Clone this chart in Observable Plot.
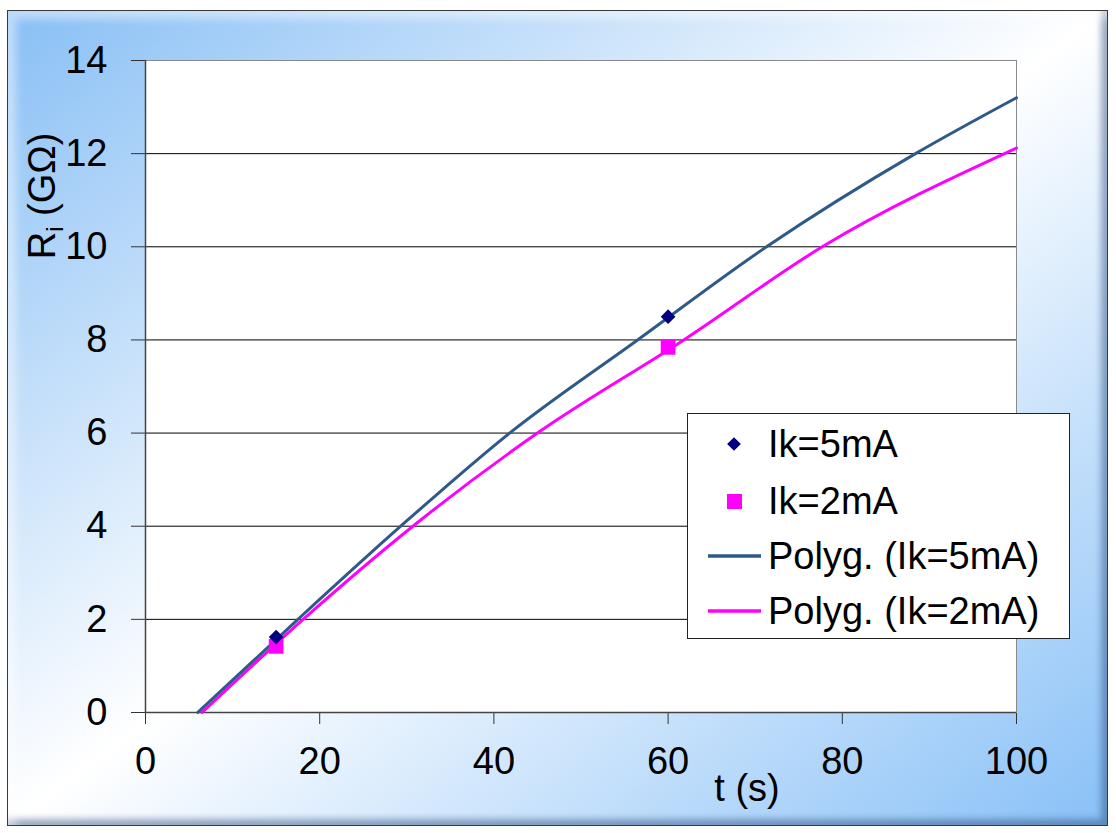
<!DOCTYPE html>
<html>
<head>
<meta charset="utf-8">
<script src="https://cdn.jsdelivr.net/npm/d3@7"></script>
<script src="https://cdn.jsdelivr.net/npm/@observablehq/plot@0.6"></script>
<style>
  html, body { margin: 0; padding: 0; width: 1116px; height: 833px; overflow: hidden; background: #fff; }
  #frame {
    position: absolute; left: 7px; top: 10px; width: 1101px; height: 816px;
    border: 1px solid #3a3a3a; box-sizing: border-box;
    background: linear-gradient(to bottom right, #88bff5 0%, #ffffff 50%, #88c0f7 100%);
    box-shadow: inset 8px 8px 8px rgba(255,255,255,0.45), inset -6px -6px 6px rgba(40,70,120,0.45);
  }
  #chart { position: absolute; left: 0; top: 0; }
  #chart svg text { font-family: "Liberation Sans", Arial, sans-serif; font-size: 38px; fill: #000; }
  #legend {
    position: absolute; left: 687px; top: 413px; width: 383px; height: 226px;
    box-sizing: border-box; background: #fff; border: 1px solid #222;
    font-family: "Liberation Sans", Arial, sans-serif; font-size: 38px; color: #000;
  }
  .row { position: absolute; left: 0; height: 40px; display: flex; align-items: center; }
  .row svg { width: 80px; height: 40px; }
  .row span { line-height: 40px; white-space: nowrap; }
</style>
</head>
<body>
<div id="frame"></div>
<div id="chart"></div>
<div id="legend"></div>
<script>
// Measured points
const tMeas = [15, 60];
const r5mA = [1.62, 8.5];
const r2mA = [1.42, 7.84];

// Polynomial trend lines
const tFit5 = [6.0, 17.5, 29.3, 41.8, 56.5, 71.3, 88.4, 100];
const rFit5 = [0, 2, 4, 6, 8, 10, 12, 13.2];
const tFit2 = [6.5, 18.1, 30.7, 45.0, 61.8, 77.7, 100];
const rFit2 = [0, 2, 4, 6, 8, 10, 12.12];

const xTicks = [0, 20, 40, 60, 80, 100];
const yTicks = [0, 2, 4, 6, 8, 10, 12, 14];

const seriesNames = ["Ik=5mA", "Ik=2mA", "Polyg. (Ik=5mA)", "Polyg. (Ik=2mA)"];
const colors = { line5: "#2e5a8a", line2: "#ff00ff", dot5: "#000080", dot2: "#ff00ff" };

const pts5 = tMeas.map((t, i) => ({ t, r: r5mA[i] }));
const pts2 = tMeas.map((t, i) => ({ t, r: r2mA[i] }));
const fit5 = tFit5.map((t, i) => ({ t, r: rFit5[i] }));
const fit2 = tFit2.map((t, i) => ({ t, r: rFit2[i] }));

const W = 1116, H = 833;
const plot = Plot.plot({
  width: W, height: H,
  marginLeft: 145, marginRight: 100, marginTop: 60, marginBottom: 121,
  style: { background: "transparent", color: "#333", overflow: "visible" },
  x: { domain: [0, 100], ticks: xTicks, tickSize: 12, tickPadding: 23, label: null },
  y: { domain: [0, 14], ticks: yTicks, tickSize: 14, tickPadding: 24, label: null },
  marks: [
    Plot.frame({ fill: "white", stroke: "#8a8a8a" }),
    Plot.ruleY(yTicks.filter(d => d > 0 && d < 14), { stroke: "#000", strokeWidth: 1 }),
    Plot.ruleY([0], { stroke: "#444", strokeWidth: 1.5 }),
    Plot.ruleX([0], { stroke: "#444", strokeWidth: 1.5 }),
    Plot.line(fit2, { x: "t", y: "r", stroke: colors.line2, strokeWidth: 3, curve: "monotone-x" }),
    Plot.line(fit5, { x: "t", y: "r", stroke: colors.line5, strokeWidth: 3, curve: "monotone-x" }),
    Plot.dot(pts2, { x: "t", y: "r", symbol: "square", r: 8.3, fill: colors.dot2, stroke: "none" }),
    Plot.dot(pts5, { x: "t", y: "r", symbol: "diamond2", r: 6.6, fill: colors.dot5, stroke: "none" })
  ]
});
document.getElementById("chart").appendChild(plot);

const svg = d3.select(plot);
// x-axis title
svg.append("text")
  .attr("x", 747).attr("y", 801)
  .attr("text-anchor", "middle")
  .text("t (s)");
// y-axis title with subscript
const yl = svg.append("text")
  .attr("transform", "translate(55,196) rotate(-90)")
  .attr("text-anchor", "middle");
yl.append("tspan").text("R");
yl.append("tspan").attr("dy", 8).style("font-size", "24px").text("i");
yl.append("tspan").attr("dy", -8).text(" (GΩ)");

// Legend
const legend = d3.select("#legend");
const rowsTop = [10, 67, 122, 177];
seriesNames.forEach((name, i) => {
  const row = legend.append("div").attr("class", "row").style("top", rowsTop[i] + "px").style("left", "18px");
  const s = row.append("svg").attr("viewBox", "0 0 62 40").style("width", "62px");
  if (i === 0) {
    s.append("path").attr("d", d3.symbol(d3.symbolDiamond2, 120)()).attr("transform", "translate(28,20)").attr("fill", colors.dot5);
  } else if (i === 1) {
    s.append("rect").attr("x", 21).attr("y", 13).attr("width", 15).attr("height", 15).attr("fill", colors.dot2);
  } else {
    s.append("line").attr("x1", 2).attr("x2", 55).attr("y1", 20).attr("y2", 20)
      .attr("stroke", i === 2 ? colors.line5 : colors.line2).attr("stroke-width", 3.5);
  }
  row.append("span").text(name);
});
</script>
</body>
</html>
